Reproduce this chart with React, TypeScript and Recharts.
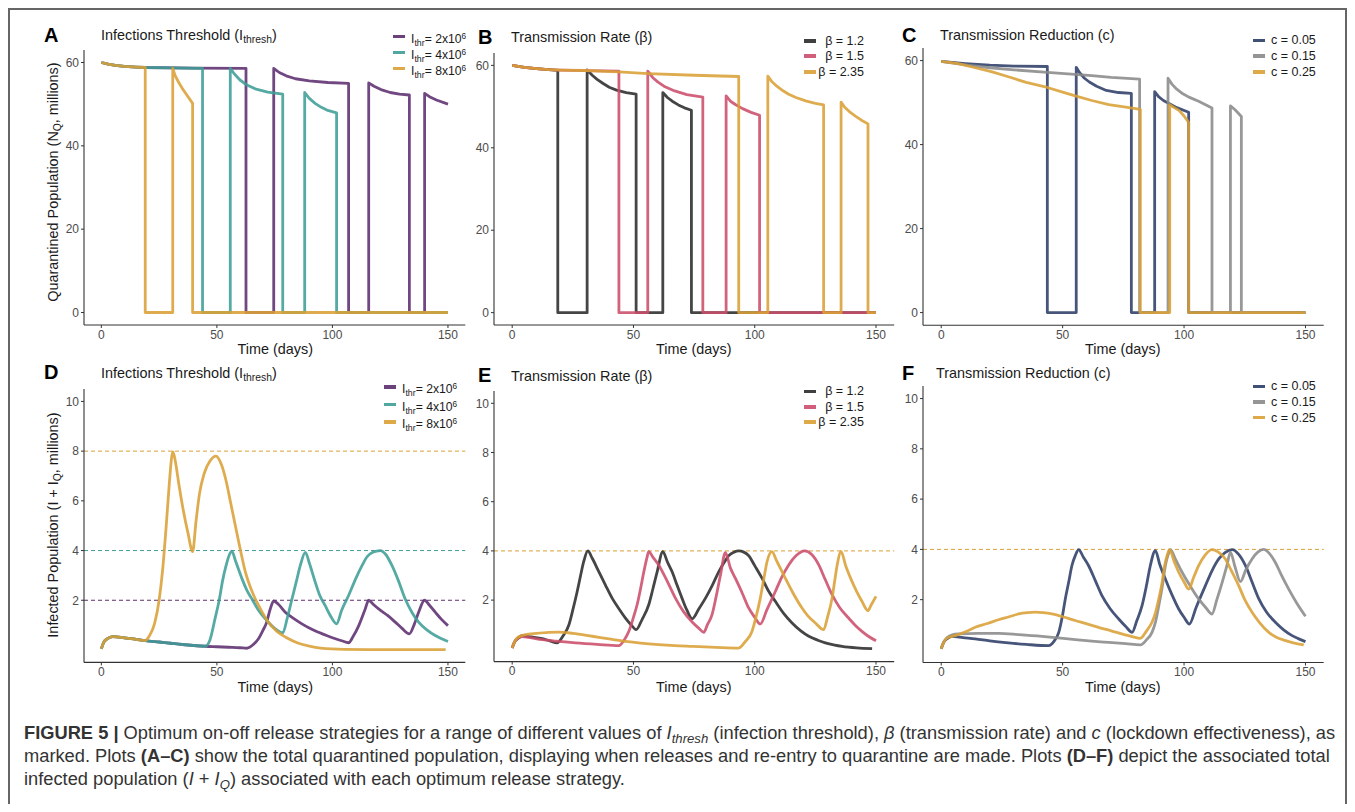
import React from 'react';
import { LineChart, Line, XAxis, YAxis, ReferenceLine } from 'recharts';

// ---------------- DATA ----------------
const xTicks = [0, 50, 100, 150];
const quarTicks = [0, 20, 40, 60];
const infTicks = [2, 4, 6, 8, 10];

const colPurple = '#5C2D6E';
const colTeal = '#3E9E96';
const colGold = '#D9A035';
const colBlack = '#2B2B2B';
const colPink = '#CC4D6B';
const colNavy = '#2C3E66';
const colGray = '#8A8A8A';

// Panel A: quarantined population, infection threshold
const aPurple: [number, number][] = [[0,60],[3,59.6],[6,59.3],[10,59.05],[15,58.9],[19,58.8],[40,58.65],[62.6,58.6],[62.6,0],[74.6,0],[74.6,58.6],[77,57.6],[80,56.8],[84,56.1],[90,55.6],[98,55.2],[107,55],[107,0],[115.7,0],[115.7,55.1],[118,54.3],[121,53.5],[125,52.8],[129,52.4],[133.3,52.2],[133.3,0],[139.9,0],[139.9,52.6],[142,51.8],[145,51],[150,50]];
const aTeal: [number, number][] = [[0,60],[3,59.6],[6,59.3],[10,59.05],[15,58.9],[19,58.8],[30,58.7],[43.8,58.6],[43.8,0],[55.8,0],[55.8,58.6],[57.5,57.3],[60,55.8],[63,54.6],[67,53.6],[72,52.9],[78.5,52.4],[78.5,0],[88,0],[88,52.8],[90,51.4],[92.5,50.2],[95,49.3],[98,48.5],[101.8,47.9],[101.8,0],[150,0]];
const aGold: [number, number][] = [[0,60],[3,59.6],[6,59.3],[10,59.05],[15,58.9],[19,58.8],[19,0],[30.9,0],[30.9,58.6],[32,56.8],[33.5,55.2],[35,53.8],[37,52.2],[39.5,50.2],[39.5,0],[150,0]];

// Panel B: quarantined population, transmission rate
const bBlack: [number, number][] = [[0,60],[5,59.5],[10,59.2],[15,58.95],[18.8,58.8],[18.8,0],[30.9,0],[30.9,58.9],[33,57.6],[35,56.6],[37.5,55.6],[40,54.7],[43,54],[47,53.4],[51.1,53],[51.1,0],[62.1,0],[62.1,53.4],[64,52.2],[66,51.3],[68.5,50.4],[71,49.7],[73.9,49.1],[73.9,0],[150,0]];
const bPink: [number, number][] = [[0,60],[5,59.5],[10,59.2],[15,58.95],[20,58.85],[30,58.7],[44,58.6],[44,0],[55.9,0],[55.9,58.6],[58,57],[60,56],[63,54.8],[67,53.8],[72,52.9],[78.6,52.3],[78.6,0],[88.2,0],[88.2,52.6],[90,51.3],[92,50.5],[95,49.5],[98.5,48.6],[102,47.9],[102,0],[150,0]];
const bGold: [number, number][] = [[0,60],[5,59.5],[10,59.2],[15,58.95],[20,58.85],[30,58.75],[44,58.4],[56,58],[75,57.6],[93.4,57.3],[93.4,0],[105.4,0],[105.4,57.4],[107,56.1],[109,55],[111.5,53.9],[114,53],[117,52.2],[121,51.4],[125,50.8],[128.4,50.4],[128.4,0],[135.6,0],[135.6,51.1],[137,49.9],[139,48.8],[141.5,47.7],[144,46.7],[146.7,45.8],[146.7,0],[150,0]];

// Panel C: quarantined population, transmission reduction
const cNavy: [number, number][] = [[0,59.8],[10,59.3],[20,58.9],[30,58.7],[43.7,58.6],[43.7,0],[55.6,0],[55.6,58.4],[57,57.1],[59,55.8],[61,54.9],[64,53.9],[68,52.9],[73,52.4],[78.3,52.2],[78.3,0],[87.9,0],[87.9,52.6],[89.5,51.4],[91.5,50.5],[94,49.7],[97,48.8],[101.9,47.7],[101.9,0],[150,0]];
const cGray: [number, number][] = [[0,59.8],[10,59],[20,58.3],[30,57.8],[43.7,57.2],[55,56.7],[62,56.4],[70,56],[81.7,55.6],[81.7,0],[93.4,0],[93.4,55.8],[95,54.4],[97,53.2],[99.5,52.1],[102,51.3],[106,50.3],[111.5,48.7],[111.5,0],[119.1,0],[119.1,49.2],[121,48.3],[123.6,46.7],[123.6,0],[150,0]];
const cGold: [number, number][] = [[0,59.8],[7,59.3],[14,58.3],[21,57.3],[28,56.1],[35,54.8],[43.7,53.6],[50,52.5],[55.2,51.6],[62,50.5],[69,49.5],[76,48.9],[82,48.4],[82,0],[94.1,0],[94.1,49.5],[96,48.8],[98,48.1],[100,46.8],[101.9,45.3],[101.9,0],[150,0]];

// Panel D: infected population, infection threshold
const dPurple: [number, number][] = [[0,0.05],[1,0.3],[2.5,0.45],[5,0.54],[10,0.49],[15,0.43],[19,0.38],[25,0.32],[30,0.27],[35,0.22],[40,0.18],[45,0.15],[50,0.13],[55,0.11],[60,0.09],[63,0.07],[65.5,0.2],[68,0.45],[70,0.8],[71.5,1.1],[73.1,1.65],[74.6,1.97],[76.5,1.85],[79.6,1.52],[83,1.28],[86.8,1.05],[90,0.88],[94,0.71],[98,0.56],[101.3,0.45],[104,0.37],[107,0.29],[109,0.55],[111.4,0.98],[114.2,1.65],[115.7,2.0],[117.5,1.85],[120,1.65],[124,1.38],[127.2,1.12],[130,0.88],[133.3,0.65],[135.5,1.05],[137.3,1.52],[139.9,2.0],[142,1.8],[144.5,1.52],[147,1.25],[150,0.98]];
const dTeal: [number, number][] = [[0,0.05],[1,0.3],[2.5,0.45],[5,0.54],[10,0.49],[15,0.43],[19,0.38],[25,0.32],[30,0.27],[35,0.22],[40,0.18],[45,0.15],[47,0.4],[49.3,1.3],[51,2.0],[52.5,2.8],[54,3.4],[55.5,3.85],[56.5,3.98],[58,3.6],[60.9,2.86],[63,2.4],[65.2,2.05],[68,1.6],[71,1.25],[75.3,0.85],[78.5,0.69],[80.5,1.3],[82.5,2.05],[84.5,2.8],[86.1,3.4],[88.3,3.93],[90,3.5],[92.6,2.72],[94.5,2.2],[96.9,1.78],[99,1.4],[101.8,1.05],[104,1.6],[107,2.19],[110,2.85],[112.8,3.39],[115,3.75],[117.5,3.93],[120.7,4.0],[123,3.85],[125.8,3.39],[128.5,2.8],[131.5,2.05],[134.5,1.5],[137.3,1.12],[141,0.8],[144.5,0.58],[150,0.34]];
const dGold: [number, number][] = [[0,0.05],[1,0.3],[2.5,0.45],[5,0.54],[10,0.49],[15,0.43],[19,0.38],[21,0.6],[23,1.05],[25,2.0],[26.5,3.2],[28,4.9],[29.5,6.8],[30.5,7.8],[31,7.97],[32,7.6],[33.5,6.7],[35.5,5.6],[37.5,4.7],[39.5,3.96],[41,5.2],[42.5,6.3],[44.5,7.1],[47,7.6],[49.6,7.8],[52,7.45],[54,6.8],[56,5.9],[58,5],[60,4.1],[62.3,3.15],[65,2.4],[68,1.8],[72,1.15],[76,0.75],[80,0.5],[85,0.28],[90,0.15],[95,0.07],[105,0.02],[120,0.01],[149,0.01]];

// Panel E: infected population, transmission rate
const eBlack: [number, number][] = [[0,0.05],[1,0.3],[2.5,0.45],[4.1,0.55],[8,0.5],[12.4,0.43],[15.5,0.34],[18.5,0.26],[21,0.55],[23.4,1.0],[25,1.6],[26.8,2.35],[28.2,3.0],[29.5,3.57],[31.2,4.0],[33,3.7],[35.7,3.16],[38.5,2.6],[41.2,2.08],[44,1.65],[46.7,1.27],[49,1.0],[51.1,0.8],[53.5,1.2],[56.3,1.81],[58,2.45],[59.8,3.16],[62.1,3.97],[64,3.55],[65.9,3.16],[68,2.6],[70,2.08],[72,1.6],[74.2,1.24],[77,1.65],[79.7,2.08],[82.5,2.6],[85.2,3.16],[87.5,3.55],[89.3,3.81],[91.5,3.95],[93.4,4.0],[95.5,3.95],[97.5,3.81],[100,3.4],[103,2.89],[105.5,2.4],[108.5,1.95],[112,1.45],[115.4,1.07],[119,0.75],[122.3,0.53],[126,0.37],[129.1,0.26],[133,0.17],[136,0.12],[142,0.06],[148.4,0.03]];
const ePink: [number, number][] = [[0,0.05],[1,0.3],[2.5,0.45],[4.1,0.52],[8,0.46],[12.4,0.39],[18,0.33],[26.1,0.26],[35,0.2],[44,0.15],[46,0.35],[48.1,0.73],[50,1.3],[51.5,1.81],[53,2.5],[54.3,3.16],[55.5,3.7],[56.3,3.97],[58,3.75],[60.4,3.43],[64,2.75],[67.3,2.08],[70.5,1.55],[74.2,1.11],[77,0.85],[79,0.69],[80.5,1.0],[82.4,1.41],[84,2.1],[85.9,3.03],[87.9,3.93],[90,3.3],[92,2.89],[95,2.25],[97.5,1.68],[100,1.3],[102.3,1.03],[105,1.6],[108.5,2.35],[111,2.9],[114,3.43],[117,3.8],[120.6,4.0],[123.5,3.85],[126.4,3.43],[129,2.85],[131.9,2.22],[135,1.7],[138.7,1.27],[141.5,0.97],[144.2,0.73],[147,0.52],[150,0.35]];
const eGold: [number, number][] = [[0,0.05],[1,0.3],[2.5,0.5],[5.5,0.6],[10,0.65],[15,0.69],[19.2,0.7],[25,0.65],[33,0.53],[40,0.42],[46.7,0.32],[53,0.25],[60.4,0.19],[67,0.15],[74.2,0.12],[84,0.08],[93.4,0.05],[96,0.3],[98.9,0.73],[100.5,1.3],[102.3,2.08],[103.8,2.9],[105.1,3.57],[107.1,3.97],[109,3.6],[110.8,3.25],[112.6,2.89],[116,2.25],[119.5,1.68],[122,1.35],[125,1.07],[128.4,0.8],[130,1.3],[131.9,2.08],[133,2.8],[134,3.43],[135.6,3.97],[137.5,3.4],[140.1,2.76],[142,2.35],[144.2,1.95],[146.7,1.57],[148,1.8],[150,2.15]];

// Panel F: infected population, transmission reduction
const fNavy: [number, number][] = [[0,0.05],[1,0.3],[2.5,0.45],[4.4,0.54],[9,0.49],[14,0.44],[20,0.36],[27.7,0.28],[35,0.22],[44.2,0.17],[46.5,0.35],[48.4,0.7],[50,1.4],[51.1,2.03],[52.5,2.7],[53.8,3.35],[55.2,3.75],[56.6,3.99],[58.5,3.7],[60.7,3.35],[63.5,2.75],[66.2,2.16],[69.5,1.65],[73.1,1.23],[76,0.93],[78.6,0.7],[80.5,1.15],[82.7,1.76],[84.5,2.55],[86.1,3.35],[88.2,3.95],[90,3.4],[92.3,2.82],[95,2.2],[97.8,1.63],[100,1.3],[102.2,1.03],[105,1.7],[108.8,2.56],[111.5,3.15],[114.3,3.62],[117,3.88],[119.8,3.99],[122.5,3.8],[125.3,3.35],[128,2.7],[130.8,2.03],[134,1.5],[137.6,1.1],[141,0.8],[144.5,0.57],[147,0.45],[150,0.33]];
const fGray: [number, number][] = [[0,0.05],[1,0.3],[2.5,0.5],[4.5,0.6],[7.1,0.64],[15,0.66],[23.6,0.66],[32,0.61],[41.5,0.54],[48,0.48],[55.2,0.41],[62,0.35],[69,0.3],[76,0.25],[82,0.2],[84.5,0.4],[86.8,0.7],[88.2,1.1],[89.6,1.76],[91,2.5],[92.3,3.35],[93.5,3.8],[94.4,3.99],[96.5,3.6],[99.2,3.09],[102.5,2.55],[106,2.03],[109,1.68],[111.5,1.43],[113.5,2.0],[115.7,2.69],[117.5,3.3],[119.1,3.88],[121,3.3],[123.2,2.72],[125.5,3.2],[128,3.62],[130.5,3.9],[132.8,4.0],[135,3.85],[137.6,3.48],[140,3.0],[143.1,2.42],[146.5,1.85],[150,1.34]];
const fGold: [number, number][] = [[0,0.05],[1,0.3],[2.5,0.48],[5.8,0.57],[10,0.72],[14,0.9],[19,1.05],[23.6,1.2],[28,1.32],[31.9,1.43],[35.5,1.48],[38.7,1.5],[42,1.48],[45.6,1.43],[50,1.32],[55.2,1.17],[60,1.04],[64.8,0.9],[70,0.76],[75.8,0.6],[79,0.52],[82,0.46],[84.5,0.75],[86.8,1.1],[88.3,1.5],[89.6,2.03],[91,2.7],[92,3.35],[93,3.75],[94,3.99],[96,3.5],[97.8,3.09],[100,2.7],[101.9,2.42],[104,2.9],[106,3.35],[108.5,3.75],[111.5,3.99],[114,3.9],[117,3.62],[119.5,3.15],[122.5,2.56],[125,2.0],[128,1.5],[131,1.1],[134.9,0.7],[138,0.5],[141.8,0.37],[145,0.28],[149.3,0.2]];

// ---------------- LAYOUT ----------------
const OFF = 8;
const FONT = '"Liberation Sans", Arial, Helvetica, sans-serif';
const toPts = (a: [number, number][]) => a.map(([t, v]) => ({ t, v }));

type Rect = { l: number; t: number; r: number; b: number };
type S = { pts: [number, number][]; color: string };
type RL = { y: number; color: string };

function Panel({ rect, yDomain, yTicks, series, refs, curve }: { rect: Rect; yDomain: [number, number]; yTicks: number[]; series: S[]; refs: RL[]; curve: 'linear' | 'monotone' }) {
  const ML = 45, MT = 10, MR = 20, MB = 34;
  const { l, t, r, b } = rect;
  const tickStyle = { fill: '#4D4D4D', fontSize: 12, fontFamily: FONT };
  return (
    <div style={{ position: 'absolute', left: l - ML - OFF, top: t - MT - OFF }}>
      <LineChart width={r - l + ML + MR} height={b - t + MT + MB} margin={{ top: MT, right: MR, left: 0, bottom: 0 }}>
        <XAxis type="number" dataKey="t" domain={[-7.5, 157.5]} ticks={xTicks} height={MB} allowDataOverflow
          axisLine={{ stroke: '#333', strokeWidth: 1.1 }} tickLine={{ stroke: '#333' }} tickSize={3} tick={tickStyle} tickMargin={2} interval={0} />
        <YAxis type="number" dataKey="v" domain={yDomain} ticks={yTicks} width={ML} allowDataOverflow
          axisLine={{ stroke: '#333', strokeWidth: 1.1 }} tickLine={{ stroke: '#333' }} tickSize={3} tick={tickStyle} tickMargin={2} interval={0} />
        {refs.map((rl, i) => (
          <ReferenceLine key={'r' + i} y={rl.y} stroke={rl.color} strokeDasharray="4 3" strokeWidth={1} />
        ))}
        {series.map((s, i) => (
          <Line key={'s' + i} data={toPts(s.pts)} dataKey="v" type={curve} stroke={s.color} strokeOpacity={0.88}
            strokeWidth={2.8} dot={false} activeDot={false} isAnimationActive={false} strokeLinejoin="round" />
        ))}
      </LineChart>
    </div>
  );
}

const Sub = ({ children }: { children: React.ReactNode }) => (
  <span style={{ fontSize: '0.72em', verticalAlign: '-0.28em' }}>{children}</span>
);
const Sup = ({ children }: { children: React.ReactNode }) => (
  <span style={{ fontSize: '0.68em', verticalAlign: '0.5em' }}>{children}</span>
);

function Txt({ x, y, size, children, bold, align, color, family }: { x: number; y: number; size: number; children: React.ReactNode; bold?: boolean; align?: 'left' | 'right'; color?: string; family?: string }) {
  const h = size * 1.3;
  const style: React.CSSProperties = {
    position: 'absolute', top: y - h / 2 - OFF, height: h, lineHeight: h + 'px', fontSize: size,
    fontFamily: family || FONT, fontWeight: bold ? 700 : 400, color: color || '#1a1a1a', whiteSpace: 'nowrap',
  };
  if (align === 'right') style.right = 1355 - x - OFF; else style.left = x - OFF;
  return <div style={style}>{children}</div>;
}

function Key({ x, y, color }: { x: number; y: number; color: string }) {
  return <div style={{ position: 'absolute', left: x - OFF, top: y - 1.8 - OFF, width: 12, height: 3.6, background: color, opacity: 0.9 }} />;
}

function VTitle({ cx, cy, children }: { cx: number; cy: number; children: React.ReactNode }) {
  return (
    <div style={{ position: 'absolute', left: cx - OFF, top: cy - OFF, transform: 'translate(-50%, -50%) rotate(-90deg)', whiteSpace: 'nowrap', fontSize: 14.4, fontFamily: FONT, color: '#1a1a1a' }}>{children}</div>
  );
}

const thrLabels = ['2x10', '4x10', '8x10'];
const betaLabels = ['β = 1.2', 'β = 1.5', 'β = 2.35'];
const cLabels = ['c = 0.05', 'c = 0.15', 'c = 0.25'];

function ThrLegend({ x, tx, ys }: { x: number; tx: number; ys: number[] }) {
  const cols = [colPurple, colTeal, colGold];
  return (
    <>
      {ys.map((y, i) => (
        <React.Fragment key={i}>
          <Key x={x} y={y} color={cols[i]} />
          <Txt x={tx} y={y} size={12.2}>I<Sub>thr</Sub>= {thrLabels[i]}<Sup>6</Sup></Txt>
        </React.Fragment>
      ))}
    </>
  );
}
function BetaLegend({ x, tr, ys }: { x: number; tr: number; ys: number[] }) {
  const cols = [colBlack, colPink, colGold];
  return (
    <>
      {ys.map((y, i) => (
        <React.Fragment key={i}>
          <Key x={x} y={y} color={cols[i]} />
          <Txt x={tr} y={y} size={12.5} align="right">{betaLabels[i]}</Txt>
        </React.Fragment>
      ))}
    </>
  );
}
function CLegend({ x, tx, ys }: { x: number; tx: number; ys: number[] }) {
  const cols = [colNavy, colGray, colGold];
  return (
    <>
      {ys.map((y, i) => (
        <React.Fragment key={i}>
          <Key x={x} y={y} color={cols[i]} />
          <Txt x={tx} y={y} size={12.5}>{cLabels[i]}</Txt>
        </React.Fragment>
      ))}
    </>
  );
}

const CAP = '"Liberation Sans Narrow", "Liberation Sans", Arial, sans-serif';

export default function App() {
  const rA = { l: 82, t: 48.2, r: 463.3, b: 323.2 };
  const rB = { l: 491.8, t: 51, r: 892, b: 323 };
  const rC = { l: 921, t: 45.5, r: 1321.7, b: 322.7 };
  const rD = { l: 82, t: 386.6, r: 463.3, b: 660 };
  const rE = { l: 491.8, t: 389.4, r: 892, b: 660 };
  const rF = { l: 921, t: 383.5, r: 1321.7, b: 660 };
  return (
    <div style={{ position: 'relative', width: 1339, height: 796, boxSizing: 'border-box', borderTop: '2px solid #666', borderLeft: '2px solid #666', borderRight: '2px solid #666', background: '#fff', overflow: 'hidden' }}>
      <Panel rect={rA} yDomain={[-3, 63]} yTicks={quarTicks} curve="linear" refs={[]}
        series={[{ pts: aPurple, color: colPurple }, { pts: aTeal, color: colTeal }, { pts: aGold, color: colGold }]} />
      <Panel rect={rB} yDomain={[-3, 63]} yTicks={quarTicks} curve="linear" refs={[]}
        series={[{ pts: bBlack, color: colBlack }, { pts: bPink, color: colPink }, { pts: bGold, color: colGold }]} />
      <Panel rect={rC} yDomain={[-3, 63]} yTicks={quarTicks} curve="linear" refs={[]}
        series={[{ pts: cNavy, color: colNavy }, { pts: cGray, color: colGray }, { pts: cGold, color: colGold }]} />
      <Panel rect={rD} yDomain={[-0.5, 10.5]} yTicks={infTicks} curve="monotone"
        refs={[{ y: 8, color: colGold }, { y: 4, color: colTeal }, { y: 2, color: colPurple }]}
        series={[{ pts: dPurple, color: colPurple }, { pts: dTeal, color: colTeal }, { pts: dGold, color: colGold }]} />
      <Panel rect={rE} yDomain={[-0.5, 10.5]} yTicks={infTicks} curve="monotone"
        refs={[{ y: 4, color: colGold }]}
        series={[{ pts: eBlack, color: colBlack }, { pts: ePink, color: colPink }, { pts: eGold, color: colGold }]} />
      <Panel rect={rF} yDomain={[-0.5, 10.5]} yTicks={infTicks} curve="monotone"
        refs={[{ y: 4, color: colGold }]}
        series={[{ pts: fNavy, color: colNavy }, { pts: fGray, color: colGray }, { pts: fGold, color: colGold }]} />

      {/* panel letters and titles */}
      <Txt x={42} y={33} size={20} bold color="#000">A</Txt>
      <Txt x={99} y={33} size={14.4}>Infections Threshold (I<Sub>thresh</Sub>)</Txt>
      <Txt x={476} y={35} size={20} bold color="#000">B</Txt>
      <Txt x={509} y={35} size={14.4}>Transmission Rate (β)</Txt>
      <Txt x={900} y={33} size={20} bold color="#000">C</Txt>
      <Txt x={938} y={33} size={14.4}>Transmission Reduction (c)</Txt>
      <Txt x={42} y={370} size={20} bold color="#000">D</Txt>
      <Txt x={99} y={371} size={14.4}>Infections Threshold (I<Sub>thresh</Sub>)</Txt>
      <Txt x={476} y={373} size={20} bold color="#000">E</Txt>
      <Txt x={509} y={374} size={14.4}>Transmission Rate (β)</Txt>
      <Txt x={900} y={371} size={20} bold color="#000">F</Txt>
      <Txt x={934} y={371} size={14.4}>Transmission Reduction (c)</Txt>

      {/* legends */}
      <ThrLegend x={391} tx={409} ys={[34.7, 50.7, 66.7]} />
      <BetaLegend x={802} tr={866} ys={[39, 54, 70]} />
      <CLegend x={1251} tx={1269} ys={[38.3, 54, 70]} />
      <ThrLegend x={382} tx={400} ys={[385, 402.7, 420]} />
      <BetaLegend x={802} tr={866} ys={[389.3, 405, 420]} />
      <CLegend x={1251} tx={1269} ys={[384.3, 400, 415.7]} />

      {/* axis titles */}
      <Txt x={235.5} y={347} size={14.4}>Time (days)</Txt>
      <Txt x={654} y={347} size={14.4}>Time (days)</Txt>
      <Txt x={1083} y={347} size={14.4}>Time (days)</Txt>
      <Txt x={235.5} y={685} size={14.4}>Time (days)</Txt>
      <Txt x={654} y={685} size={14.4}>Time (days)</Txt>
      <Txt x={1083} y={685} size={14.4}>Time (days)</Txt>
      <VTitle cx={52} cy={180}>Quarantined Population (N<Sub>Q</Sub>, millions)</VTitle>
      <VTitle cx={52} cy={523}>Infected Population (I + I<Sub>Q</Sub>, millions)</VTitle>

      {/* caption */}
      <Txt x={22} y={731} size={18.3} family={CAP} color="#333">
        <b>FIGURE 5 |</b> Optimum on-off release strategies for a range of different values of <i>I<Sub>thresh</Sub></i> (infection threshold), <i>β</i> (transmission rate) and <i>c</i> (lockdown effectiveness), as
      </Txt>
      <Txt x={22} y={754} size={18.3} family={CAP} color="#333">
        marked. Plots <b>(A–C)</b> show the total quarantined population, displaying when releases and re-entry to quarantine are made. Plots <b>(D–F)</b> depict the associated total
      </Txt>
      <Txt x={22} y={777} size={18.3} family={CAP} color="#333">
        infected population (<i>I</i> + <i>I<Sub>Q</Sub></i>) associated with each optimum release strategy.
      </Txt>
    </div>
  );
}
